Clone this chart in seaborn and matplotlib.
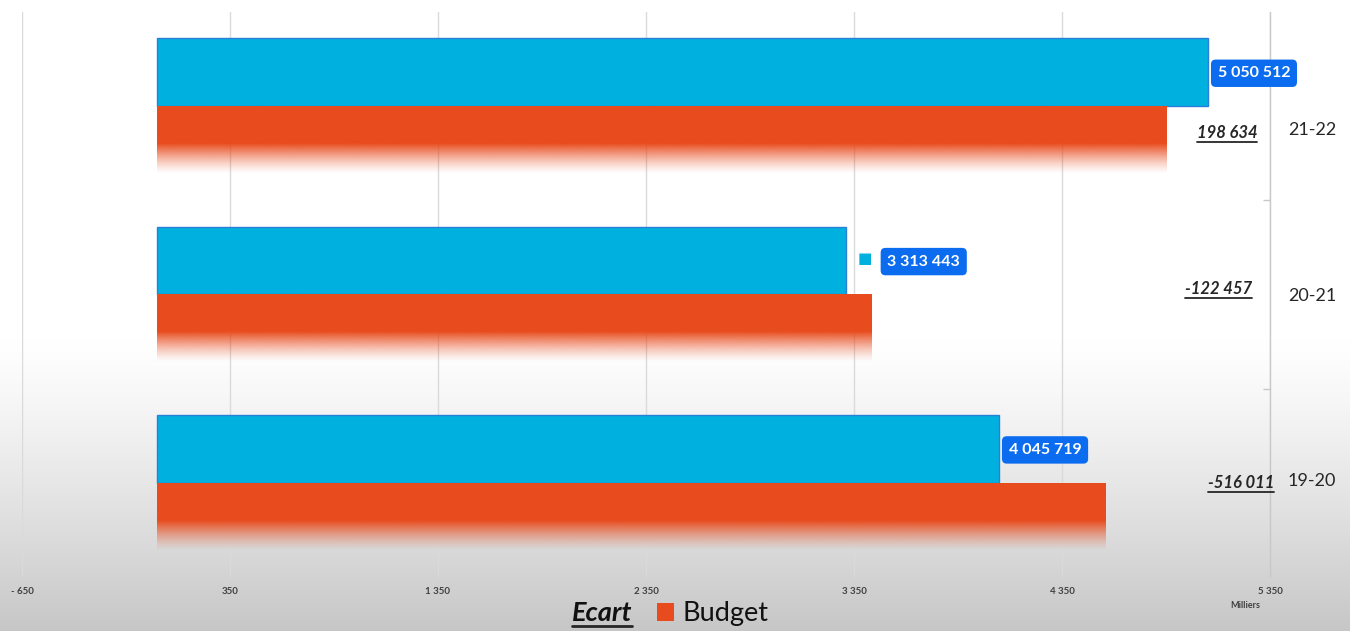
#! /usr/bin/env python3

"""Budget vs realised per exercise (horizontal bars, values in thousands)."""

import numpy as np
import pandas as pd
import seaborn as sns
import matplotlib.pyplot as plt
from matplotlib.patches import Patch
from matplotlib.lines import Line2D
from matplotlib.transforms import ScaledTranslation

# ---- data ----
exercices = ["21-22", "20-21", "19-20"]
realise = [5050512, 3313443, 4045719]
budget = [4851878, 3435900, 4561730]
ecart_labels = ["198 634", "-122 457", "-516 011"]
x_ticks = [-650, 350, 1350, 2350, 3350, 4350, 5350]

# ---- style ----
BLUE = "#00b0df"
BLUE_EDGE = "#2a80d9"
RED = "#e84c1e"
LABEL_BOX = "#0b6cf0"
FONT = ["Lato", "DejaVu Sans"]

# where the "Ecart" labels sit (axes fraction)
ecart_pos = [(0.9655, 0.785), (0.959, 0.51), (0.9768, 0.166)]
# vertical nudge of the category labels (pixels)
cat_nudge = [-22, 0, 3]


def fmt(v):
    return f"{v:,}".replace(",", " ")


def main():
    sns.set_theme(style="white")
    plt.rcParams["font.family"] = FONT

    df = pd.DataFrame({
        "exercice": exercices * 2,
        "serie": ["Réalisé"] * 3 + ["Budget"] * 3,
        "milliers": [v / 1000 for v in realise] + [v / 1000 for v in budget],
    })

    fig = plt.figure(figsize=(13.5, 6.31), dpi=100)
    fig.patch.set_facecolor("white")

    # background: white, fading to light grey at the bottom
    bg = fig.add_axes([0, 0, 1, 1], zorder=-10)
    grad = np.ones((200, 1, 3))
    t = np.linspace(0, 1, 200)
    shade = np.where(t < 0.54, 1.0, 1.0 - 0.22 * ((t - 0.54) / 0.46) ** 1.2)
    grad[:, 0, :] = shade[:, None]
    bg.imshow(grad, aspect="auto", extent=(0, 1, 0, 1), interpolation="bilinear")
    bg.axis("off")

    ax = fig.add_axes([0.0163, 0.0856, 0.9244, 0.8954])
    ax.set_facecolor("none")

    sns.barplot(data=df, y="exercice", x="milliers", hue="serie",
                order=exercices, hue_order=["Réalisé", "Budget"],
                palette=[BLUE, RED], orient="h", width=0.72,
                saturation=1, legend=False, ax=ax, zorder=3)

    blue_bars, red_bars = ax.containers[0], ax.containers[1]
    for p in blue_bars:
        p.set_edgecolor(BLUE_EDGE)
        p.set_linewidth(1.0)

    # budget bars fade out towards their bottom edge
    rgb = np.array(plt.matplotlib.colors.to_rgb(RED))
    n = 100
    rows = np.linspace(0, 1, n)
    alpha = np.clip(1 - (rows - 0.55) / 0.45, 0, 1) ** 1.3
    img = np.zeros((n, 1, 4))
    img[:, 0, :3] = rgb
    img[:, 0, 3] = alpha
    for p in red_bars:
        x0, y0 = p.get_x(), p.get_y()
        w, h = p.get_width(), p.get_height()
        p.set_facecolor("none")
        p.set_edgecolor("none")
        ax.imshow(img, aspect="auto", interpolation="bilinear",
                  extent=(x0, x0 + w, y0 + h, y0), zorder=3)

    # realised value labels in blue rounded boxes
    for i, p in enumerate(blue_bars):
        xe = p.get_x() + p.get_width()
        yc = p.get_y() + p.get_height() / 2
        dx = 36 if i == 1 else 5
        if i == 1:
            ax.annotate("\u25a0", xy=(xe, yc), xytext=(11, 2),
                        textcoords="offset pixels", ha="left", va="center",
                        fontsize=11, color=BLUE, family=["DejaVu Sans"])
        ax.annotate(fmt(realise[i]), xy=(xe, yc), xytext=(dx + 5, -1),
                    textcoords="offset pixels", ha="left", va="center",
                    fontsize=11.5, fontweight="bold", color="white", zorder=6,
                    bbox=dict(boxstyle="round,pad=0.42,rounding_size=0.3",
                              fc=LABEL_BOX, ec="none"))

    # ecart labels (bold italic, underlined later)
    ecart_texts = []
    for lab, (xf, yf) in zip(ecart_labels, ecart_pos):
        ecart_texts.append(ax.text(xf, yf, lab, transform=ax.transAxes,
                                   ha="center", va="center", fontsize=12,
                                   fontweight="bold", fontstyle="italic",
                                   color="#262626", zorder=6))

    # axes
    ax.set_xlim(x_ticks[0], x_ticks[-1])
    ax.set_ylim(2.5, -0.5)
    ax.set_xticks(x_ticks)
    ax.set_xticklabels([fmt(v).replace("-", "- ") for v in x_ticks])
    ax.tick_params(axis="x", length=0, pad=7, labelsize=7, labelcolor="#404040")
    for lab in ax.get_xticklabels():
        lab.set_fontweight("bold")
    ax.grid(axis="x", color="#dadada", linewidth=1.0, zorder=0)
    ax.set_axisbelow(True)

    ax.yaxis.tick_right()
    ax.set_yticks([0.5, 1.5], minor=True)
    ax.tick_params(axis="y", which="major", length=0, pad=13, labelsize=13,
                   labelcolor="#262626")
    ax.tick_params(axis="y", which="minor", length=5, width=1, color="#c8c8c8",
                   direction="in", right=True)
    for s in ["left", "top", "bottom"]:
        ax.spines[s].set_visible(False)
    ax.spines["right"].set_color("#c8c8c8")
    ax.spines["right"].set_linewidth(1.0)
    ax.set_xlabel("")
    ax.set_ylabel("")
    for lab, dy in zip(ax.get_yticklabels(), cat_nudge):
        lab.set_transform(lab.get_transform()
                          + ScaledTranslation(0, dy / 100, fig.dpi_scale_trans))

    ax.text(0.98, -0.05, "Milliers", transform=ax.transAxes, ha="center",
            va="center", fontsize=6.5, fontweight="bold", color="#404040")

    # legend at the bottom
    handles = [Patch(facecolor="none", edgecolor="none"),
               Patch(facecolor=RED, edgecolor="none")]
    leg = fig.legend(handles, ["Ecart", "Budget"], ncol=2, loc="center",
                     bbox_to_anchor=(0.487, 0.027), frameon=False, fontsize=19.5,
                     handlelength=0.65, handleheight=0.65, handletextpad=0.3,
                     columnspacing=0.9)
    t0, t1 = leg.get_texts()
    t0.set_fontweight("bold")
    t0.set_fontstyle("italic")
    t0.set_color("#111111")
    t1.set_color("#111111")

    # underline the ecart texts and the "Ecart" legend entry
    fig.canvas.draw()
    r = fig.canvas.get_renderer()
    W, H = fig.bbox.width, fig.bbox.height
    for txt, lw in [(t, 1.3) for t in ecart_texts] + [(t0, 2.0)]:
        bb = txt.get_window_extent(r)
        yb = bb.y0 - 1
        fig.add_artist(Line2D([bb.x0 / W, bb.x1 / W], [yb / H, yb / H],
                              color="#262626", linewidth=lw))

    fig.savefig("out.png", dpi=100)


if __name__ == "__main__":
    main()
